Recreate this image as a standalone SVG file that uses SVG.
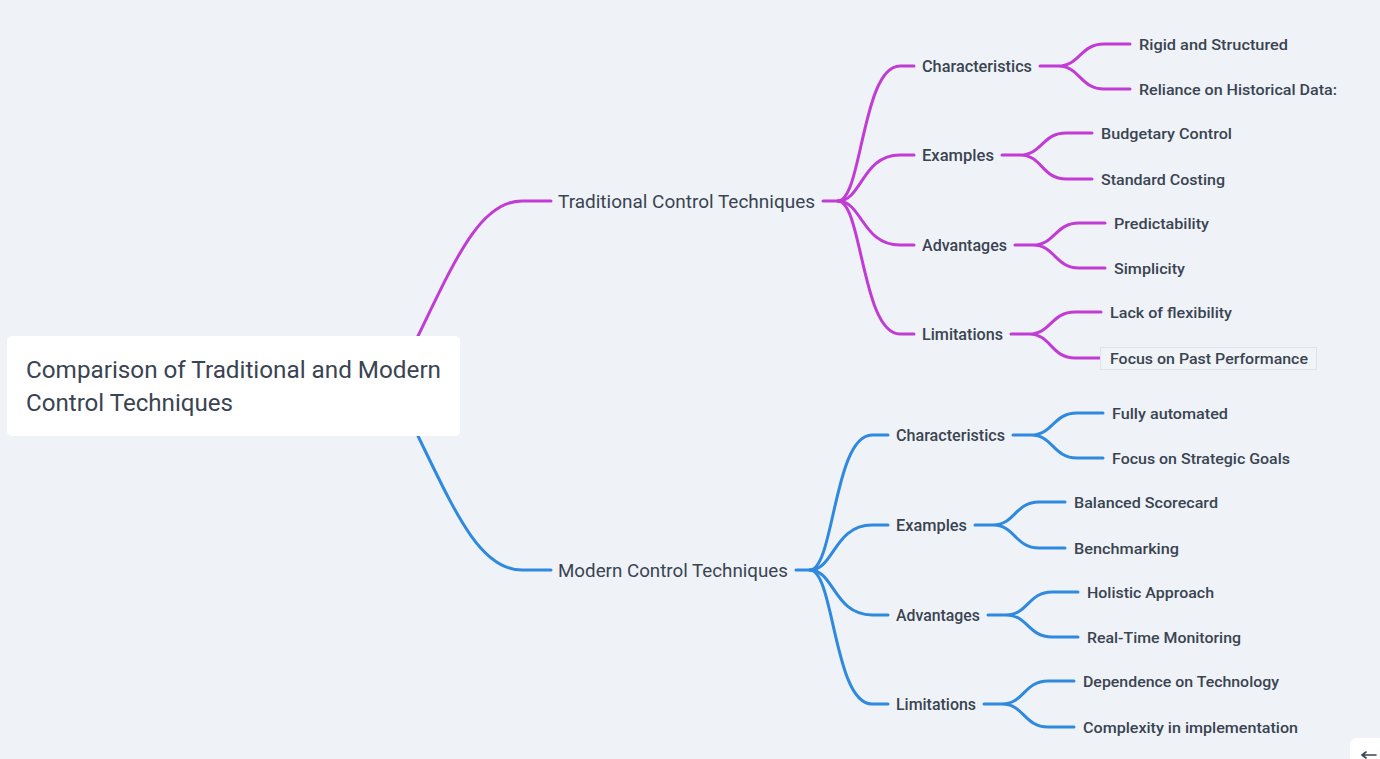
<svg xmlns="http://www.w3.org/2000/svg" width="1380" height="759" viewBox="0 0 1380 759">
<style>
text{font-family:Roboto,"Noto Sans","Liberation Sans",sans-serif;fill:#3a4452;font-weight:500}
.root{font-size:24px;font-weight:400}
.l1{font-size:19px;font-weight:400}
.l2{font-size:16px}
.l3{font-size:15.5px}
.p{fill:none;stroke:#c13cd5;stroke-width:3;stroke-linecap:round}
.b{fill:none;stroke:#2e89df;stroke-width:3;stroke-linecap:round}
</style>
<rect x="0" y="0" width="1380" height="759" fill="#eff3f7"/>
<g id="connectors">
<path class="p" d="M418,336 C455,260 480,201 522,201 L551,201"/>
<path class="b" d="M418,436 C455,512 480,570 522,570 L551,570"/>
<path class="p" d="M823,201 L838,201 C862,201 862,66 900,66 L914,66"/>
<path class="p" d="M838,201 C862,201 862,155 900,155 L914,155"/>
<path class="p" d="M838,201 C862,201 862,245 900,245 L914,245"/>
<path class="p" d="M838,201 C862,201 862,334 900,334 L914,334"/>
<path class="p" d="M1040,66 L1058,66 C1080,66 1080,44 1104,44 L1130,44 M1058,66 C1080,66 1080,89 1104,89 L1130,89"/>
<path class="p" d="M1002,155 L1020,155 C1042,155 1042,133 1066,133 L1092,133 M1020,155 C1042,155 1042,179 1066,179 L1092,179"/>
<path class="p" d="M1015,245 L1033,245 C1055,245 1055,223 1079,223 L1105,223 M1033,245 C1055,245 1055,268 1079,268 L1105,268"/>
<path class="p" d="M1011,334 L1029,334 C1051,334 1051,312 1075,312 L1101,312 M1029,334 C1051,334 1051,358 1075,358 L1101,358"/>
<path class="b" d="M796,570 L810,570 C834,570 834,435 872,435 L888,435"/>
<path class="b" d="M810,570 C834,570 834,525 872,525 L888,525"/>
<path class="b" d="M810,570 C834,570 834,615 872,615 L888,615"/>
<path class="b" d="M810,570 C834,570 834,704 872,704 L888,704"/>
<path class="b" d="M1013,435 L1031,435 C1053,435 1053,413 1077,413 L1103,413 M1031,435 C1053,435 1053,458 1077,458 L1103,458"/>
<path class="b" d="M975,525 L993,525 C1015,525 1015,502 1039,502 L1065,502 M993,525 C1015,525 1015,548 1039,548 L1065,548"/>
<path class="b" d="M988,615 L1006,615 C1028,615 1028,592 1052,592 L1078,592 M1006,615 C1028,615 1028,637 1052,637 L1078,637"/>
<path class="b" d="M984,704 L1002,704 C1024,704 1024,681 1048,681 L1074,681 M1002,704 C1024,704 1024,727 1048,727 L1074,727"/>
</g>
<g id="root">
<rect x="7" y="336" width="453" height="100" rx="5" fill="#ffffff"/>
<text class="root" x="26" y="378" textLength="415" lengthAdjust="spacingAndGlyphs">Comparison of Traditional and Modern</text>
<text class="root" x="26" y="411" textLength="207" lengthAdjust="spacingAndGlyphs">Control Techniques</text>
</g>
<g id="traditional"><text class="l1" x="558" y="208" textLength="257" lengthAdjust="spacingAndGlyphs">Traditional Control Techniques</text></g>
<g id="t-char"><text class="l2" x="922" y="71.5" textLength="110" lengthAdjust="spacingAndGlyphs">Characteristics</text></g>
<g id="t-ex"><text class="l2" x="922" y="160.5" textLength="72" lengthAdjust="spacingAndGlyphs">Examples</text></g>
<g id="t-adv"><text class="l2" x="922" y="250.5" textLength="85" lengthAdjust="spacingAndGlyphs">Advantages</text></g>
<g id="t-lim"><text class="l2" x="922" y="339.5" textLength="81" lengthAdjust="spacingAndGlyphs">Limitations</text></g>
<g id="t-char-1"><text class="l3" x="1139" y="49.5" textLength="149" lengthAdjust="spacingAndGlyphs">Rigid and Structured</text></g>
<g id="t-char-2"><text class="l3" x="1139" y="94.5" textLength="198" lengthAdjust="spacingAndGlyphs">Reliance on Historical Data:</text></g>
<g id="t-ex-1"><text class="l3" x="1101" y="138.5" textLength="131" lengthAdjust="spacingAndGlyphs">Budgetary Control</text></g>
<g id="t-ex-2"><text class="l3" x="1101" y="184.5" textLength="124" lengthAdjust="spacingAndGlyphs">Standard Costing</text></g>
<g id="t-adv-1"><text class="l3" x="1114" y="228.5" textLength="95" lengthAdjust="spacingAndGlyphs">Predictability</text></g>
<g id="t-adv-2"><text class="l3" x="1114" y="273.5" textLength="71" lengthAdjust="spacingAndGlyphs">Simplicity</text></g>
<g id="t-lim-1"><text class="l3" x="1110" y="317.5" textLength="122" lengthAdjust="spacingAndGlyphs">Lack of flexibility</text></g>
<g id="t-lim-2">
<rect x="1100.5" y="347.5" width="216" height="22" fill="#f1f4f7" stroke="#dde3ea" stroke-width="1"/>
<text class="l3" x="1110" y="363.5" textLength="198" lengthAdjust="spacingAndGlyphs">Focus on Past Performance</text>
</g>
<g id="modern"><text class="l1" x="558" y="577" textLength="230" lengthAdjust="spacingAndGlyphs">Modern Control Techniques</text></g>
<g id="m-char"><text class="l2" x="896" y="440.5" textLength="109" lengthAdjust="spacingAndGlyphs">Characteristics</text></g>
<g id="m-ex"><text class="l2" x="896" y="530.5" textLength="71" lengthAdjust="spacingAndGlyphs">Examples</text></g>
<g id="m-adv"><text class="l2" x="896" y="620.5" textLength="84" lengthAdjust="spacingAndGlyphs">Advantages</text></g>
<g id="m-lim"><text class="l2" x="896" y="709.5" textLength="80" lengthAdjust="spacingAndGlyphs">Limitations</text></g>
<g id="m-char-1"><text class="l3" x="1112" y="418.5" textLength="116" lengthAdjust="spacingAndGlyphs">Fully automated</text></g>
<g id="m-char-2"><text class="l3" x="1112" y="463.5" textLength="178" lengthAdjust="spacingAndGlyphs">Focus on Strategic Goals</text></g>
<g id="m-ex-1"><text class="l3" x="1074" y="507.5" textLength="144" lengthAdjust="spacingAndGlyphs">Balanced Scorecard</text></g>
<g id="m-ex-2"><text class="l3" x="1074" y="553.5" textLength="105" lengthAdjust="spacingAndGlyphs">Benchmarking</text></g>
<g id="m-adv-1"><text class="l3" x="1087" y="597.5" textLength="127" lengthAdjust="spacingAndGlyphs">Holistic Approach</text></g>
<g id="m-adv-2"><text class="l3" x="1087" y="642.5" textLength="154" lengthAdjust="spacingAndGlyphs">Real-Time Monitoring</text></g>
<g id="m-lim-1"><text class="l3" x="1083" y="686.5" textLength="196" lengthAdjust="spacingAndGlyphs">Dependence on Technology</text></g>
<g id="m-lim-2"><text class="l3" x="1083" y="732.5" textLength="215" lengthAdjust="spacingAndGlyphs">Complexity in implementation</text></g>
<g id="corner-button">
<rect x="1350" y="738" width="44" height="40" rx="6" fill="#ffffff"/>
<path d="M1366,752 L1362,755 L1366,758 M1362,755 L1376,755" fill="none" stroke="#3a4452" stroke-width="1.6" stroke-linecap="round" stroke-linejoin="round"/>
</g>
</svg>
